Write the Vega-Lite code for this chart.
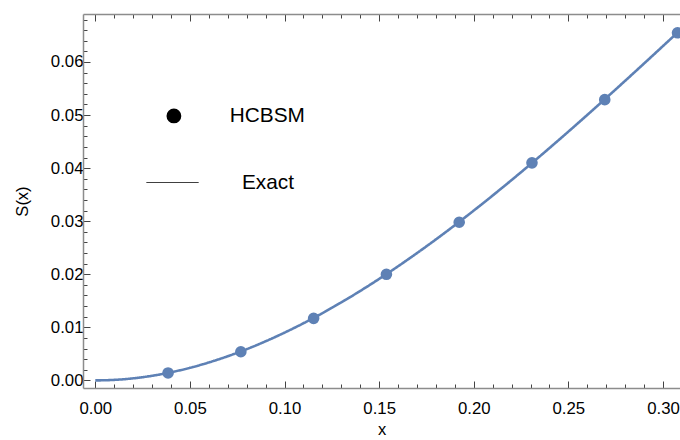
{
  "$schema": "https://vega.github.io/schema/vega-lite/v6.json",
  "width": 597,
  "height": 374,
  "autosize": {"type": "none"},
  "padding": {"left": 83, "top": 14, "right": 0, "bottom": 52},
  "config": {
    "view": {"stroke": null},
    "font": "Liberation Sans",
    "axis": {
      "grid": false,
      "domainColor": "#8c8c8c",
      "domainWidth": 1.5,
      "tickColor": "#444444",
      "tickWidth": 1,
      "labelFontSize": 16.8,
      "labelColor": "#000000",
      "titleFontSize": 16.5,
      "titleFontWeight": "normal",
      "titleColor": "#000000",
      "labelOverlap": false,
      "labelFlush": false
    },
    "legend": {"labelColor": "#000000", "labelFont": "Liberation Sans"}
  },
  "datasets": {
    "curve": [
      {"x": 0, "y": 0, "s": "Exact"},
      {"x": 0.01, "y": 0.000099, "s": "Exact"},
      {"x": 0.02, "y": 0.000392, "s": "Exact"},
      {"x": 0.03, "y": 0.000873, "s": "Exact"},
      {"x": 0.04, "y": 0.001536, "s": "Exact"},
      {"x": 0.05, "y": 0.002375, "s": "Exact"},
      {"x": 0.06, "y": 0.003384, "s": "Exact"},
      {"x": 0.07, "y": 0.004557, "s": "Exact"},
      {"x": 0.08, "y": 0.005888, "s": "Exact"},
      {"x": 0.09, "y": 0.007371, "s": "Exact"},
      {"x": 0.10, "y": 0.009, "s": "Exact"},
      {"x": 0.11, "y": 0.010769, "s": "Exact"},
      {"x": 0.12, "y": 0.012672, "s": "Exact"},
      {"x": 0.13, "y": 0.014703, "s": "Exact"},
      {"x": 0.14, "y": 0.016856, "s": "Exact"},
      {"x": 0.15, "y": 0.019125, "s": "Exact"},
      {"x": 0.16, "y": 0.021504, "s": "Exact"},
      {"x": 0.17, "y": 0.023987, "s": "Exact"},
      {"x": 0.18, "y": 0.026568, "s": "Exact"},
      {"x": 0.19, "y": 0.029241, "s": "Exact"},
      {"x": 0.20, "y": 0.032, "s": "Exact"},
      {"x": 0.21, "y": 0.034839, "s": "Exact"},
      {"x": 0.22, "y": 0.037752, "s": "Exact"},
      {"x": 0.23, "y": 0.040733, "s": "Exact"},
      {"x": 0.24, "y": 0.043776, "s": "Exact"},
      {"x": 0.25, "y": 0.046875, "s": "Exact"},
      {"x": 0.26, "y": 0.050024, "s": "Exact"},
      {"x": 0.27, "y": 0.053217, "s": "Exact"},
      {"x": 0.28, "y": 0.056448, "s": "Exact"},
      {"x": 0.29, "y": 0.059711, "s": "Exact"},
      {"x": 0.30, "y": 0.063, "s": "Exact"},
      {"x": 0.31, "y": 0.066309, "s": "Exact"}
    ],
    "points": [
      {"x": 0.03846, "y": 0.0014, "s": "HCBSM"},
      {"x": 0.07692, "y": 0.0054, "s": "HCBSM"},
      {"x": 0.11538, "y": 0.0117, "s": "HCBSM"},
      {"x": 0.15385, "y": 0.0200, "s": "HCBSM"},
      {"x": 0.19231, "y": 0.0298, "s": "HCBSM"},
      {"x": 0.23077, "y": 0.0410, "s": "HCBSM"},
      {"x": 0.26923, "y": 0.0529, "s": "HCBSM"},
      {"x": 0.30769, "y": 0.0655, "s": "HCBSM"}
    ]
  },
  "layer": [
    {
      "data": {"name": "curve"},
      "mark": {"type": "line", "strokeWidth": 2.6, "clip": true, "interpolate": "monotone", "color": "#5E81B5"},
      "encoding": {
        "x": {
          "field": "x", "type": "quantitative",
          "scale": {"domain": [-0.0065, 0.309], "nice": false, "zero": false},
          "axis": {
            "orient": "bottom",
            "values": [0,0.01,0.02,0.03,0.04,0.05,0.06,0.07,0.08,0.09,0.1,0.11,0.12,0.13,0.14,0.15,0.16,0.17,0.18,0.19,0.2,0.21,0.22,0.23,0.24,0.25,0.26,0.27,0.28,0.29,0.3],
            "tickSize": {"condition": {"test": "abs(datum.value*20-round(datum.value*20))<0.001", "value": -7}, "value": -4},
            "labelExpr": "abs(datum.value*20-round(datum.value*20))<0.001 ? format(datum.value, '.2f') : ''",
            "labelPadding": 19,
            "title": "x",
            "titlePadding": 2
          }
        },
        "y": {
          "field": "y", "type": "quantitative",
          "scale": {"domain": [-0.00143, 0.06904], "nice": false, "zero": false},
          "axis": {
            "orient": "left",
            "values": [0,0.002,0.004,0.006,0.008,0.01,0.012,0.014,0.016,0.018,0.02,0.022,0.024,0.026,0.028,0.03,0.032,0.034,0.036,0.038,0.04,0.042,0.044,0.046,0.048,0.05,0.052,0.054,0.056,0.058,0.06,0.062,0.064,0.066,0.068],
            "tickSize": {"condition": {"test": "abs(datum.value*100-round(datum.value*100))<0.001", "value": -7}, "value": -4},
            "labelExpr": "abs(datum.value*100-round(datum.value*100))<0.001 ? format(datum.value, '.2f') : ''",
            "labelPadding": 7,
            "title": "S(x)",
            "titlePadding": 20
          }
        },
        "strokeDash": {
          "field": "s", "type": "nominal",
          "scale": {"domain": ["Exact"], "range": [[1, 0]]},
          "legend": {
            "title": null,
            "orient": "none",
            "legendX": 63,
            "legendY": 142,
            "padding": 0,
            "symbolType": "stroke",
            "symbolSize": 2704,
            "symbolStrokeWidth": 1,
            "symbolStrokeColor": "#000000",
            "labelFontSize": 20.8,
            "labelOffset": 43,
            "encoding": {"symbols": {"stroke": {"value": "#000000"}, "strokeWidth": {"value": 1}}}
          }
        }
      }
    },
    {
      "data": {"name": "points"},
      "mark": {"type": "point", "filled": true, "size": 135, "color": "#5E81B5", "opacity": 1},
      "encoding": {
        "x": {
          "field": "x", "type": "quantitative",
          "scale": {"domain": [-0.0065, 0.309], "nice": false, "zero": false},
          "axis": {
            "orient": "top",
            "values": [0,0.01,0.02,0.03,0.04,0.05,0.06,0.07,0.08,0.09,0.1,0.11,0.12,0.13,0.14,0.15,0.16,0.17,0.18,0.19,0.2,0.21,0.22,0.23,0.24,0.25,0.26,0.27,0.28,0.29,0.3],
            "tickSize": {"condition": {"test": "abs(datum.value*20-round(datum.value*20))<0.001", "value": -7}, "value": -4},
            "labels": false,
            "title": null
          }
        },
        "y": {
          "field": "y", "type": "quantitative",
          "scale": {"domain": [-0.00143, 0.06904], "nice": false, "zero": false},
          "axis": {
            "orient": "left",
            "values": [0,0.002,0.004,0.006,0.008,0.01,0.012,0.014,0.016,0.018,0.02,0.022,0.024,0.026,0.028,0.03,0.032,0.034,0.036,0.038,0.04,0.042,0.044,0.046,0.048,0.05,0.052,0.054,0.056,0.058,0.06,0.062,0.064,0.066,0.068],
            "tickSize": {"condition": {"test": "abs(datum.value*100-round(datum.value*100))<0.001", "value": -7}, "value": -4},
            "labelExpr": "abs(datum.value*100-round(datum.value*100))<0.001 ? format(datum.value, '.2f') : ''",
            "labelPadding": 7,
            "title": "S(x)",
            "titlePadding": 20
          }
        },
        "shape": {
          "field": "s", "type": "nominal",
          "scale": {"domain": ["HCBSM"], "range": ["circle"]},
          "legend": {
            "title": null,
            "orient": "none",
            "legendX": 80.5,
            "legendY": 91.5,
            "padding": 0,
            "symbolSize": 177,
            "symbolFillColor": "#000000",
            "symbolStrokeColor": "#000000",
            "labelFontSize": 20.8,
            "labelOffset": 45.5,
            "encoding": {"symbols": {"fill": {"value": "#000000"}, "stroke": {"value": "#000000"}, "opacity": {"value": 1}}}
          }
        }
      }
    }
  ],
  "resolve": {"axis": {"x": "independent"}}
}
